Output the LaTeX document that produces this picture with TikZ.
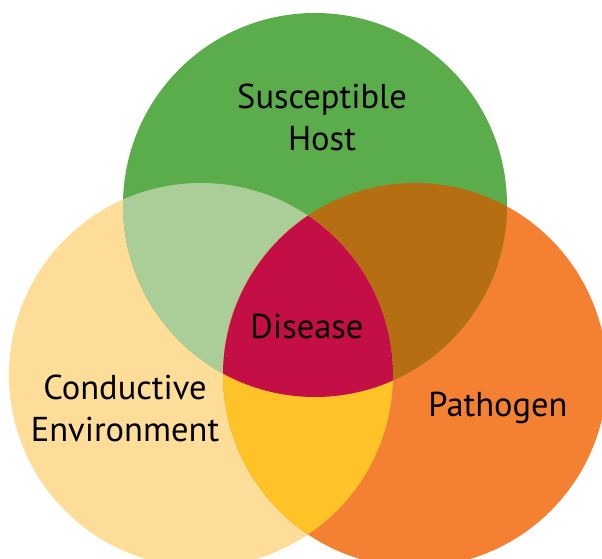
\documentclass[tikz,border=0pt]{standalone}
\usepackage{fontspec}
\setmainfont{PT Sans}
\usepackage{tikz}
\definecolor{hostgreen}{RGB}{91, 172, 74}
\definecolor{envyellow}{RGB}{253, 221, 152}
\definecolor{pathorange}{RGB}{244, 128, 50}
\definecolor{paleleaf}{RGB}{171, 206, 152}
\definecolor{rust}{RGB}{181, 111, 18}
\definecolor{amber}{RGB}{254, 195, 39}
\definecolor{diseasered}{RGB}{196, 14, 70}

\begin{document}
\begin{tikzpicture}[x=1pt, y=-1pt,
    setlabel/.style={font=\fontsize{34.5}{42}\selectfont, align=center, anchor=base, inner sep=0pt}]
      \useasboundingbox (0,0) rectangle (602,559);
      \coordinate (host) at (315,205);
      \coordinate (env) at (201,375);
      \coordinate (path) at (415,375);
      % the three sets
      \fill[envyellow] (env) circle[radius=192pt];
      \fill[pathorange] (path) circle[radius=192pt];
      \fill[hostgreen] (host) circle[radius=192pt];
      % pairwise overlaps
      \begin{scope}
        \clip (host) circle[radius=192pt];
        \fill[paleleaf] (env) circle[radius=192pt];
        \fill[rust] (path) circle[radius=192pt];
      \end{scope}
      \begin{scope}
        \clip (env) circle[radius=192pt];
        \fill[amber] (path) circle[radius=192pt];
      \end{scope}
      % all three
      \begin{scope}
        \clip (host) circle[radius=192pt];
        \clip (env) circle[radius=192pt];
        \fill[diseasered] (path) circle[radius=192pt];
      \end{scope}
      \node[setlabel] (hostlabel) at (322,150) {Susceptible\\Host};
      \node[setlabel] (envlabel) at (125,441) {Conductive\\Environment};
      \node[setlabel] (pathlabel) at (498,416) {Pathogen};
      \node[setlabel] (disease) at (307,338) {Disease};
    \end{tikzpicture}
\end{document}
